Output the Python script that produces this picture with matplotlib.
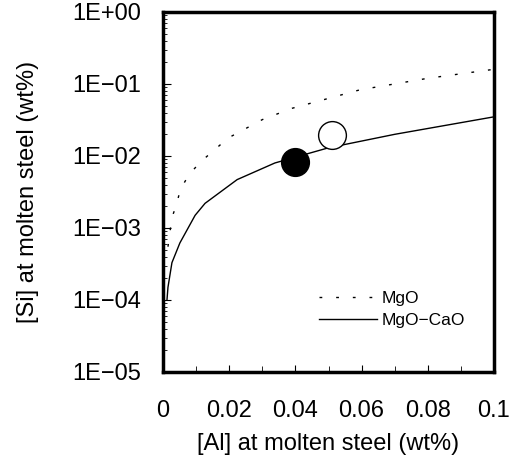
import matplotlib
matplotlib.use("Agg")
import matplotlib.pyplot as plt
from matplotlib.ticker import FixedLocator, LogLocator, NullFormatter

plt.rcParams["font.family"] = ["Liberation Sans", "DejaVu Sans"]

# [Al] vs [Si] equilibrium curves
al_mgo = [0.0015, 0.0027, 0.0039, 0.0051, 0.0066, 0.0082, 0.012, 0.0197,
          0.030, 0.039, 0.0595, 0.08, 0.1]
si_mgo = [5.5e-4, 1.4e-3, 2.0e-3, 3.2e-3, 4.4e-3, 5.8e-3, 8.8e-3, 1.78e-2,
          3.2e-2, 4.6e-2, 8.3e-2, 1.2e-1, 1.6e-1]

al_cao = [0.0012, 0.0015, 0.0027, 0.0051, 0.0097, 0.0127, 0.0224, 0.0338,
          0.05, 0.07, 0.1]
si_cao = [1.0e-4, 1.5e-4, 3.3e-4, 6.2e-4, 1.5e-3, 2.2e-3, 4.7e-3, 8.0e-3,
          1.3e-2, 2.0e-2, 3.5e-2]

# experimental points
exp_al = [0.04, 0.051]
exp_si = [0.0083, 0.0195]
exp_fill = ["black", "white"]

x_ticks = [0, 0.02, 0.04, 0.06, 0.08, 0.1]
x_ticklabels = ["0", "0.02", "0.04", "0.06", "0.08", "0.1"]
y_ticks = [1e-5, 1e-4, 1e-3, 1e-2, 1e-1, 1e0]
y_ticklabels = ["1E\u221205", "1E\u221204", "1E\u221203", "1E\u221202", "1E\u221201", "1E+00"]

fig = plt.figure(figsize=(5.17, 4.59), dpi=100)
ax = fig.add_axes([163 / 517, 1 - 372 / 459, 331 / 517, 360 / 459])

ax.plot(al_mgo, si_mgo, color="black", lw=1.0, linestyle=(0, (2, 10)), label="MgO")
ax.plot(al_cao, si_cao, color="black", lw=1.0, label="MgO\u2212CaO")
for xa, ys, fc in zip(exp_al, exp_si, exp_fill):
    ax.plot(xa, ys, "o", ms=20, mfc=fc, mec="black", mew=1.0, zorder=5)

ax.set_yscale("log")
ax.set_xlim(0, 0.1)
ax.set_ylim(1e-5, 1)
ax.set_xticks(x_ticks)
ax.set_xticklabels(x_ticklabels)
ax.xaxis.set_minor_locator(FixedLocator([0.01, 0.03, 0.05, 0.07, 0.09]))
ax.set_yticks(y_ticks)
ax.set_yticklabels(y_ticklabels)
ax.yaxis.set_minor_locator(LogLocator(base=10, subs=range(2, 10)))
ax.yaxis.set_minor_formatter(NullFormatter())

ax.tick_params(axis="both", which="both", direction="in", top=False, right=False,
               labelsize=17)
ax.tick_params(axis="x", which="major", length=5, pad=20)
ax.tick_params(axis="x", which="minor", length=4)
ax.tick_params(axis="y", which="major", length=6, pad=16)
ax.tick_params(axis="y", which="minor", length=3)
for s in ax.spines.values():
    s.set_linewidth(2.5)

ax.set_xlabel("[Al] at molten steel (wt%)", fontsize=17, labelpad=8)
ax.set_ylabel("[Si] at molten steel (wt%)", fontsize=17, labelpad=24)

ax.legend(loc="lower right", bbox_to_anchor=(0.96, 0.078), frameon=False,
          fontsize=12.5, handlelength=3.3, handletextpad=0.3, labelspacing=0.4)

fig.savefig("out.png", dpi=100)
